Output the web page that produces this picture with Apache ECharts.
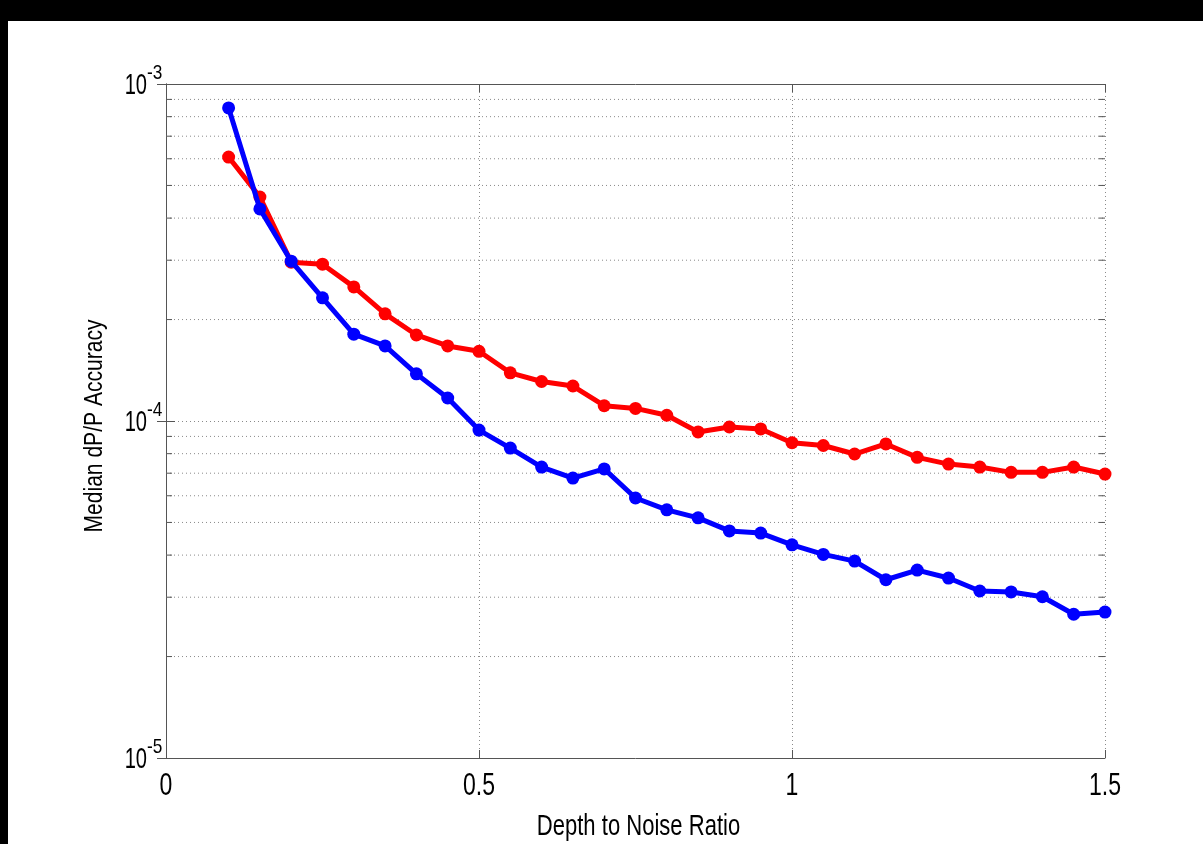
<!DOCTYPE html>
<html>
<head>
<meta charset="utf-8">
<script src="https://cdn.jsdelivr.net/npm/echarts@6/dist/echarts.min.js"></script>
<style>
  html, body { margin: 0; padding: 0; background: #000; width: 1203px; height: 844px; overflow: hidden; }
  #chart { position: absolute; left: 8px; top: 21px; width: 1195px; height: 823px; background: #fff; }
</style>
</head>
<body>
<div id="chart"></div>
<script>
// Depth-to-noise ratio samples
const ratios = [0.10, 0.15, 0.20, 0.25, 0.30, 0.35, 0.40, 0.45, 0.50, 0.55,
                0.60, 0.65, 0.70, 0.75, 0.80, 0.85, 0.90, 0.95, 1.00, 1.05,
                1.10, 1.15, 1.20, 1.25, 1.30, 1.35, 1.40, 1.45, 1.50];

// Median dP/P accuracy, red run
const redAccuracy = [6.07e-4, 4.62e-4, 2.96e-4, 2.92e-4, 2.50e-4, 2.08e-4, 1.80e-4, 1.67e-4, 1.61e-4, 1.39e-4,
                     1.31e-4, 1.27e-4, 1.11e-4, 1.09e-4, 1.04e-4, 9.28e-5, 9.60e-5, 9.47e-5, 8.62e-5, 8.46e-5,
                     7.98e-5, 8.55e-5, 7.80e-5, 7.45e-5, 7.30e-5, 7.04e-5, 7.04e-5, 7.30e-5, 6.96e-5];

// Median dP/P accuracy, blue run
const blueAccuracy = [8.49e-4, 4.26e-4, 2.98e-4, 2.32e-4, 1.81e-4, 1.67e-4, 1.38e-4, 1.17e-4, 9.40e-5, 8.31e-5,
                      7.30e-5, 6.77e-5, 7.21e-5, 5.91e-5, 5.45e-5, 5.16e-5, 4.72e-5, 4.65e-5, 4.29e-5, 4.02e-5,
                      3.84e-5, 3.38e-5, 3.61e-5, 3.42e-5, 3.13e-5, 3.11e-5, 3.01e-5, 2.67e-5, 2.71e-5];

// Axis ticks and labels
const xTicks = [0, 0.5, 1, 1.5];
const xTickLabels = ['0', '0.5', '1', '1.5'];
const yDecades = [1e-5, 1e-4, 1e-3];
const yExponents = ['-5', '-4', '-3'];
const xTitle = 'Depth to Noise Ratio';
const yTitle = 'Median dP/P Accuracy';

// Minor log positions (2..9 within each decade)
const minorValues = [];
for (let d = 0; d < yDecades.length - 1; d++) {
  for (let k = 2; k <= 9; k++) minorValues.push(k * yDecades[d]);
}

const FONT = '"Liberation Sans", Arial, sans-serif';
const GRID_COLOR = '#8a8a8a';
const AXIS_COLOR = '#555';

const chart = echarts.init(document.getElementById('chart'));

function pairs(values) {
  return ratios.map((r, i) => [r, values[i]]);
}

const xMin = xTicks[0], xMax = xTicks[xTicks.length - 1];
const yMin = yDecades[0], yMax = yDecades[yDecades.length - 1];

function valueAxis(position, withGrid) {
  return {
    type: 'value', position: position,
    min: xMin, max: xMax, interval: 0.5,
    axisLine: { show: true, lineStyle: { color: AXIS_COLOR, width: 1 } },
    axisTick: { show: true, inside: true, length: 8, lineStyle: { color: AXIS_COLOR } },
    axisLabel: { show: false },
    splitLine: { show: withGrid, lineStyle: { color: GRID_COLOR, type: [1, 3], width: 1 } }
  };
}

function logAxis(position, withGrid) {
  return {
    type: 'log', logBase: 10, position: position,
    min: yMin, max: yMax,
    axisLine: { show: true, lineStyle: { color: AXIS_COLOR, width: 1 } },
    axisTick: { show: true, inside: true, length: 9, lineStyle: { color: AXIS_COLOR } },
    axisLabel: { show: false },
    splitLine: { show: withGrid, lineStyle: { color: GRID_COLOR, type: [1, 3], width: 1 } }
  };
}

const option = {
  backgroundColor: '#fff',
  animation: false,
  textStyle: { fontFamily: FONT, color: '#000' },
  grid: { left: 158, top: 63, right: 98, bottom: 86 },
  xAxis: [valueAxis('bottom', true), valueAxis('top', false)],
  yAxis: [logAxis('left', true), logAxis('right', false)],
  series: [
    {
      // minor log grid lines and inward minor ticks on both sides
      type: 'custom',
      silent: true,
      z: 1,
      data: minorValues.map(v => [xMin, v]),
      renderItem: function (params, api) {
        const v = api.value(1);
        const l = api.coord([xMin, v]);
        const r = api.coord([xMax, v]);
        return {
          type: 'group',
          children: [
            { type: 'line', shape: { x1: l[0], y1: l[1], x2: r[0], y2: r[1] },
              style: { stroke: GRID_COLOR, lineWidth: 1, lineDash: [1, 3] } },
            { type: 'line', shape: { x1: l[0], y1: l[1], x2: l[0] + 6, y2: l[1] },
              style: { stroke: AXIS_COLOR, lineWidth: 1 } },
            { type: 'line', shape: { x1: r[0] - 6, y1: r[1], x2: r[0], y2: r[1] },
              style: { stroke: AXIS_COLOR, lineWidth: 1 } }
          ]
        };
      }
    },
    {
      name: 'red',
      type: 'line',
      data: pairs(redAccuracy),
      symbol: 'circle', symbolSize: 13,
      lineStyle: { color: '#ff0000', width: 5 },
      itemStyle: { color: '#ff0000' },
      z: 3
    },
    {
      name: 'blue',
      type: 'line',
      data: pairs(blueAccuracy),
      symbol: 'circle', symbolSize: 13,
      lineStyle: { color: '#0000ff', width: 5 },
      itemStyle: { color: '#0000ff' },
      z: 4
    }
  ]
};

chart.setOption(option);

// Condensed text labels placed from the axis scales
const toPx = (x, y) => chart.convertToPixel({ xAxisIndex: 0, yAxisIndex: 0 }, [x, y]);
const origin = toPx(xMin, yMin);
const corner = toPx(xMax, yMax);
const leftPx = origin[0], bottomPx = origin[1];
const midX = (origin[0] + corner[0]) / 2, midY = (origin[1] + corner[1]) / 2;

function label(text, x, y, size, scaleX, align, rotation) {
  return {
    type: 'text', x: x, y: y, scaleX: scaleX, rotation: rotation || 0, silent: true, z: 10,
    style: {
      text: text, fontFamily: FONT, fontSize: size, fill: '#000',
      align: align, verticalAlign: 'middle',
      textAlign: align, textVerticalAlign: 'middle'
    }
  };
}

const texts = [];
xTicks.forEach((t, i) => {
  const p = toPx(t, yMin);
  texts.push(label(xTickLabels[i], p[0], bottomPx + 28, 32, 0.72, 'center'));
});
yDecades.forEach((d, i) => {
  const p = toPx(xMin, d);
  texts.push(label('10', leftPx - 19, p[1] + 2, 30, 0.67, 'right'));
  texts.push(label(yExponents[i], leftPx - 19, p[1] - 11, 21, 0.82, 'left'));
});
texts.push(label(xTitle, midX + 3, bottomPx + 69, 29, 0.76, 'center'));
texts.push(label(yTitle, leftPx - 71, midY + 5, 26, 0.81, 'center', Math.PI / 2));

chart.setOption({ graphic: { elements: texts } });
</script>
</body>
</html>
